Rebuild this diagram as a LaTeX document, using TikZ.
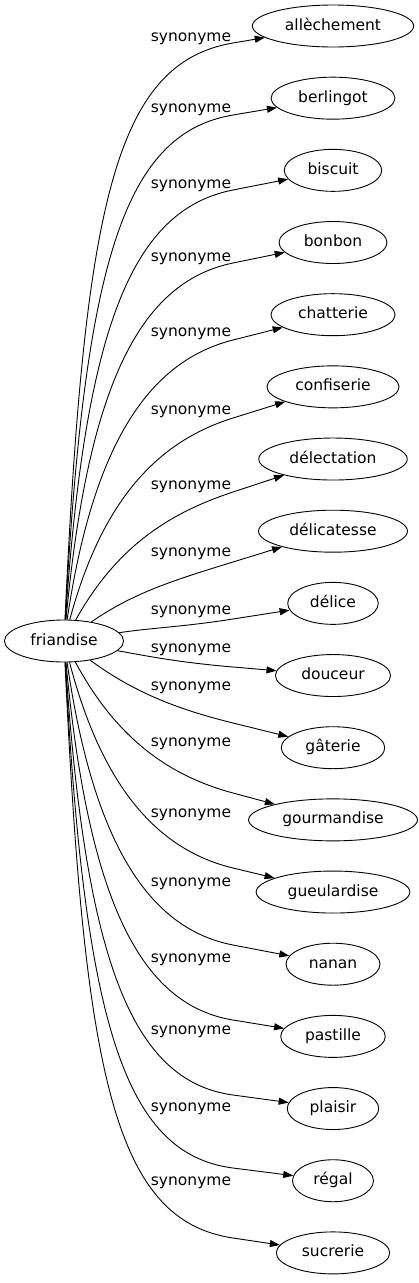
\documentclass[tikz,border=0pt]{standalone}
\usepackage{fontspec}
\setmainfont{DejaVu Sans}
\usetikzlibrary{shapes.geometric,arrows.meta,calc}
\begin{document}
\begin{tikzpicture}[x=1pt,y=-1pt,
  every node/.style={font=\fontsize{15.5}{18}\selectfont},
  gnode/.style={draw,ellipse,line width=0.9pt,inner xsep=9pt,inner ysep=0pt,minimum height=42pt,text height=11.5pt,text depth=3.5pt},
  lbl/.style={inner sep=0pt,text height=11.5pt,text depth=3.5pt},
  edge/.style={draw,line width=0.9pt,-{Triangle[length=10pt,width=7pt]}}]
\useasboundingbox (0,0) rectangle (419,1283);
\node[gnode,inner xsep=8.5pt] (f) at (64,641) {friandise};
\foreach \i/\w/\ly/\my in {0/allèchement/37/43,1/berlingot/108/115,2/biscuit/184/190,3/bonbon/257/263,4/chatterie/332/340,5/confiserie/410/418,6/délectation/485/492,7/délicatesse/552/562,8/délice/610/619,9/douceur/648/667,10/gâterie/686/723,11/gourmandise/742/793,12/gueulardise/813/868,13/nanan/882/945,14/pastille/958/1020,15/plaisir/1030/1095,16/régal/1107/1168,17/sucrerie/1181/1238}{
  \pgfmathsetmacro\yt{26+72.17*\i}
  \pgfmathsetmacro\dd{\my-641}
  \pgfmathsetmacro\ss{abs(\dd)/598}
  \pgfmathsetmacro\aa{0.12+0.45*(1-\ss)^3}
  \pgfmathsetmacro\bb{0.6+0.13*\ss}
  \pgfmathsetmacro\cax{64+\aa*169}
  \pgfmathsetmacro\cay{641+\bb*\dd}
  \pgfmathsetmacro\ux{100}
  \pgfmathsetmacro\uy{\yt-\my}
  \pgfmathsetmacro\un{sqrt(\ux*\ux+\uy*\uy)}
  \pgfmathsetmacro\LL{50+70*\ss}
  \pgfmathsetmacro\cbx{233-\LL*\ux/\un}
  \pgfmathsetmacro\cby{\my-\LL*\uy/\un}
  \node[gnode] (n\i) at (333,\yt) {\w};
  \node[lbl] (l\i) at (191,\ly) {synonyme};
  \coordinate (m\i) at (233,\my);
  \draw[edge] (f) .. controls (\cax,\cay) and (\cbx,\cby) .. (m\i) -- (n\i);
}
\end{tikzpicture}
\end{document}
